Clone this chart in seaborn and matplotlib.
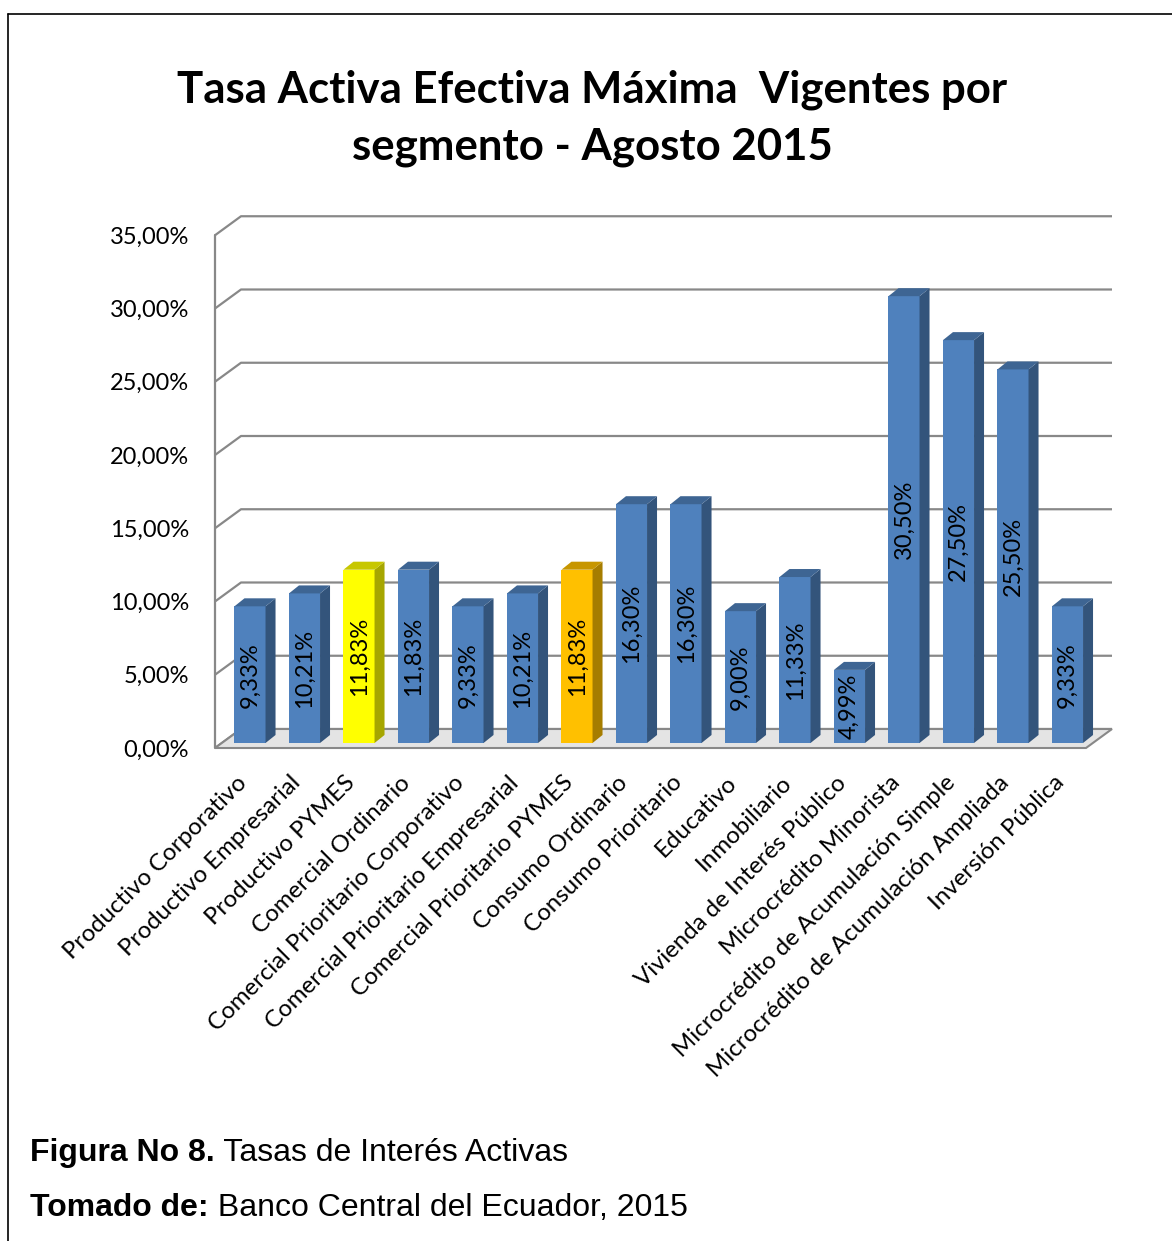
import matplotlib
matplotlib.use("Agg")
import matplotlib.pyplot as plt
import seaborn as sns
import numpy as np
from matplotlib.patches import Polygon
from matplotlib.lines import Line2D
from matplotlib.transforms import ScaledTranslation
import matplotlib.colors as mcolors

# ---------------- data ----------------
categories = [
    "Productivo Corporativo", "Productivo Empresarial", "Productivo PYMES",
    "Comercial Ordinario", "Comercial Prioritario Corporativo",
    "Comercial Prioritario Empresarial", "Comercial Prioritario PYMES",
    "Consumo Ordinario", "Consumo Prioritario", "Educativo", "Inmobiliario",
    "Vivienda de Interés Público", "Microcrédito Minorista",
    "Microcrédito de Acumulación Simple", "Microcrédito de Acumulación Ampliada",
    "Inversión Pública",
]
values = [9.33, 10.21, 11.83, 11.83, 9.33, 10.21, 11.83, 16.30, 16.30,
          9.00, 11.33, 4.99, 30.50, 27.50, 25.50, 9.33]
bar_colors = ["#4F81BD", "#4F81BD", "#FFFF00", "#4F81BD", "#4F81BD", "#4F81BD",
              "#FFC000", "#4F81BD", "#4F81BD", "#4F81BD", "#4F81BD", "#4F81BD",
              "#4F81BD", "#4F81BD", "#4F81BD", "#4F81BD"]
y_ticks = [0, 5, 10, 15, 20, 25, 30, 35]
y_tick_labels = ["0,00%", "5,00%", "10,00%", "15,00%", "20,00%", "25,00%",
                 "30,00%", "35,00%"]
title_lines = ["Tasa Activa Efectiva Máxima  Vigentes por",
               "segmento - Agosto 2015"]

# ---------------- figure / geometry ----------------
W, H, DPI = 1172, 1241, 100
sns.set_style("white")
plt.rcParams["font.family"] = ["Lato", "DejaVu Sans"]
plt.rcParams["text.color"] = "black"
plt.rcParams["xtick.color"] = "black"
plt.rcParams["ytick.color"] = "black"
fig = plt.figure(figsize=(W / DPI, H / DPI), dpi=DPI)

PX_X = 54.5     # px per category
PX_Y = 14.65    # px per percent
X0PX = 250      # px of category 0 centre
Y0PX = 743      # px of bar baseline
L, R, T, B = 200, 1120, 200, 760
ax = fig.add_axes([L / W, 1 - B / H, (R - L) / W, (B - T) / H])

front_off = (Y0PX - 748) / PX_Y          # front axis zero
back_off = (Y0PX - 729) / PX_Y           # back wall zero
x_front = (215 - X0PX) / PX_X
x_back = (241 - X0PX) / PX_X
x_right = (1112 - X0PX) / PX_X
x_floor_r = (1086 - X0PX) / PX_X
grid_c = "#888888"

# bars
palette = dict(zip(categories, bar_colors))
sns.barplot(x=categories, y=values, hue=categories, palette=palette, order=categories,
            hue_order=categories, width=0.57, saturation=1, legend=False, ax=ax,
            edgecolor="none", zorder=2)
bar_patches = list(ax.patches)

# floor
floor = Polygon([(x_front, front_off), (x_floor_r, front_off),
                 (x_right, back_off), (x_back, back_off)],
                closed=True, facecolor="#e4e4e4", edgecolor=grid_c, lw=1.5, zorder=0.6)
ax.add_patch(floor)
# grid lines (back wall) with diagonal to front axis
for v in y_ticks:
    ax.plot([x_front, x_back, x_right], [v + front_off, v + back_off, v + back_off],
            color=grid_c, lw=1.6, zorder=0.5, solid_capstyle="butt")
ax.plot([x_front, x_front], [front_off, y_ticks[-1] + front_off], color=grid_c, lw=1.6, zorder=0.7)

dx = 10 / PX_X
dy = 8 / PX_Y
for p, col, v in zip(bar_patches, bar_colors, values):
    x0, w, h = p.get_x(), p.get_width(), p.get_height()
    rgb = np.array(mcolors.to_rgb(col))
    side = Polygon([(x0 + w, 0), (x0 + w + dx, dy), (x0 + w + dx, h + dy), (x0 + w, h)],
                   closed=True, facecolor=rgb * 0.65, edgecolor="none", zorder=2)
    top = Polygon([(x0, h), (x0 + w, h), (x0 + w + dx, h + dy), (x0 + dx, h + dy)],
                  closed=True, facecolor=rgb * 0.78, edgecolor="none", zorder=2)
    ax.add_patch(side)
    ax.add_patch(top)
    ax.text(x0 + w / 2, h / 2, f"{v:.2f}%".replace(".", ","), rotation=90,
            ha="center", va="center", fontsize=17, color="black", zorder=3)

ax.set_xlim((L - X0PX) / PX_X, (R - X0PX) / PX_X)
ax.set_ylim((Y0PX - B) / PX_Y, (Y0PX - T) / PX_Y)

# axes decorations
for s in ax.spines.values():
    s.set_visible(False)
ax.set_yticks([v + front_off for v in y_ticks])
ax.set_yticklabels(y_tick_labels, fontsize=17)
ax.tick_params(axis="y", length=0, pad=8)
ax.set_xticks(range(len(categories)))
ax.set_xticklabels(categories, rotation=45, ha="right", rotation_mode="anchor",
                   va="center", fontsize=17.3)
ax.tick_params(axis="x", length=0, pad=14)
shift = ScaledTranslation(-7 / DPI, 0, fig.dpi_scale_trans)
for lab in ax.get_xticklabels():
    lab.set_transform(lab.get_transform() + shift)
ax.set_xlabel("")
ax.set_ylabel("")
ax.patch.set_alpha(0)

# title
fig.text(592 / W, 1 - 90 / H, title_lines[0], ha="center", va="center",
         fontsize=31.5, fontweight="bold", color="black")
fig.text(592 / W, 1 - 147 / H, title_lines[1], ha="center", va="center",
         fontsize=31.5, fontweight="bold", color="black")

# captions
cap_font = ["Liberation Sans", "DejaVu Sans"]
fig.canvas.draw()
rend = fig.canvas.get_renderer()
for y_px, bold, normal in [(1153, "Figura No 8.", " Tasas de Interés Activas"),
                           (1208, "Tomado de:", " Banco Central del Ecuador, 2015")]:
    tb = fig.text(30 / W, 1 - y_px / H, bold, ha="left", va="center", fontsize=23,
                  fontweight="bold", family=cap_font, color="black")
    bb = tb.get_window_extent(renderer=rend)
    fig.text(bb.x1 / W, 1 - y_px / H, normal, ha="left", va="center", fontsize=23,
             family=cap_font, color="black")

# border
fig.add_artist(Line2D([8 / W, 8 / W], [0, 1 - 14 / H], color="black", lw=1.2,
                      transform=fig.transFigure))
fig.add_artist(Line2D([8 / W, 1], [1 - 14 / H, 1 - 14 / H], color="black", lw=1.2,
                      transform=fig.transFigure))

fig.savefig("out.png", dpi=DPI)
